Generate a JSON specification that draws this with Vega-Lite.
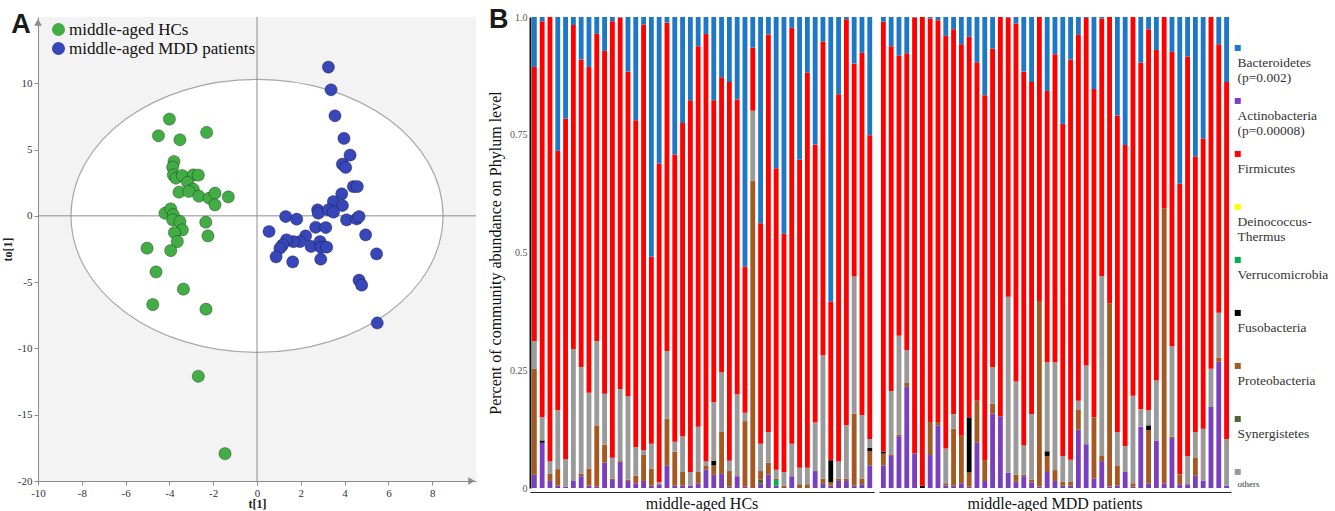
{
  "$schema": "https://vega.github.io/schema/vega-lite/v6.json",
  "padding": {"left": 1, "top": 6, "right": 0, "bottom": 0},
  "background": "white",
  "config": {"view": {"stroke": null}, "font": "Liberation Serif"},
  "datasets": {
    "phyla": [
      {"code": "Act", "phylum": "Actinobacteria", "rank": 1},
      {"code": "Syn", "phylum": "Synergistetes", "rank": 2},
      {"code": "Ver", "phylum": "Verrucomicrobia", "rank": 3},
      {"code": "Pro", "phylum": "Proteobacteria", "rank": 4},
      {"code": "Fus", "phylum": "Fusobacteria", "rank": 5},
      {"code": "Oth", "phylum": "others", "rank": 6},
      {"code": "Dei", "phylum": "Deinococcus-Thermus", "rank": 7},
      {"code": "Fir", "phylum": "Firmicutes", "rank": 8},
      {"code": "Bac", "phylum": "Bacteroidetes", "rank": 9}
    ],
    "scores": [
      {"grp": "middle-aged HCs", "t1": -4.0, "to1": 7.3},
      {"grp": "middle-aged HCs", "t1": -4.5, "to1": 6.04},
      {"grp": "middle-aged HCs", "t1": -3.52, "to1": 5.74},
      {"grp": "middle-aged HCs", "t1": -2.3, "to1": 6.29},
      {"grp": "middle-aged HCs", "t1": -3.79, "to1": 4.1},
      {"grp": "middle-aged HCs", "t1": -3.85, "to1": 3.67},
      {"grp": "middle-aged HCs", "t1": -3.82, "to1": 3.09},
      {"grp": "middle-aged HCs", "t1": -3.7, "to1": 2.84},
      {"grp": "middle-aged HCs", "t1": -3.41, "to1": 3.04},
      {"grp": "middle-aged HCs", "t1": -2.91, "to1": 3.09},
      {"grp": "middle-aged HCs", "t1": -2.68, "to1": 3.07},
      {"grp": "middle-aged HCs", "t1": -3.17, "to1": 2.52},
      {"grp": "middle-aged HCs", "t1": -2.91, "to1": 2.01},
      {"grp": "middle-aged HCs", "t1": -3.56, "to1": 1.79},
      {"grp": "middle-aged HCs", "t1": -3.11, "to1": 1.84},
      {"grp": "middle-aged HCs", "t1": -2.65, "to1": 1.48},
      {"grp": "middle-aged HCs", "t1": -2.18, "to1": 1.33},
      {"grp": "middle-aged HCs", "t1": -1.92, "to1": 1.71},
      {"grp": "middle-aged HCs", "t1": -1.92, "to1": 0.83},
      {"grp": "middle-aged HCs", "t1": -1.31, "to1": 1.43},
      {"grp": "middle-aged HCs", "t1": -4.2, "to1": 0.2},
      {"grp": "middle-aged HCs", "t1": -3.94, "to1": 0.53},
      {"grp": "middle-aged HCs", "t1": -3.82, "to1": 0.08},
      {"grp": "middle-aged HCs", "t1": -3.85, "to1": -0.3},
      {"grp": "middle-aged HCs", "t1": -3.52, "to1": -0.43},
      {"grp": "middle-aged HCs", "t1": -3.41, "to1": -1.06},
      {"grp": "middle-aged HCs", "t1": -3.77, "to1": -1.26},
      {"grp": "middle-aged HCs", "t1": -3.64, "to1": -1.94},
      {"grp": "middle-aged HCs", "t1": -2.34, "to1": -0.48},
      {"grp": "middle-aged HCs", "t1": -2.24, "to1": -1.51},
      {"grp": "middle-aged HCs", "t1": -5.02, "to1": -2.44},
      {"grp": "middle-aged HCs", "t1": -3.94, "to1": -2.62},
      {"grp": "middle-aged HCs", "t1": -4.61, "to1": -4.23},
      {"grp": "middle-aged HCs", "t1": -3.36, "to1": -5.53},
      {"grp": "middle-aged HCs", "t1": -4.76, "to1": -6.69},
      {"grp": "middle-aged HCs", "t1": -2.33, "to1": -7.04},
      {"grp": "middle-aged HCs", "t1": -2.68, "to1": -12.1},
      {"grp": "middle-aged HCs", "t1": -1.46, "to1": -17.94},
      {"grp": "middle-aged MDD patients", "t1": 3.26, "to1": 11.22},
      {"grp": "middle-aged MDD patients", "t1": 3.38, "to1": 9.51},
      {"grp": "middle-aged MDD patients", "t1": 3.56, "to1": 7.55},
      {"grp": "middle-aged MDD patients", "t1": 3.97, "to1": 5.84},
      {"grp": "middle-aged MDD patients", "t1": 4.25, "to1": 4.58},
      {"grp": "middle-aged MDD patients", "t1": 3.9, "to1": 3.9},
      {"grp": "middle-aged MDD patients", "t1": 4.05, "to1": 3.65},
      {"grp": "middle-aged MDD patients", "t1": 4.4, "to1": 2.21},
      {"grp": "middle-aged MDD patients", "t1": 4.58, "to1": 2.21},
      {"grp": "middle-aged MDD patients", "t1": 3.87, "to1": 1.66},
      {"grp": "middle-aged MDD patients", "t1": 3.49, "to1": 1.08},
      {"grp": "middle-aged MDD patients", "t1": 3.9, "to1": 0.78},
      {"grp": "middle-aged MDD patients", "t1": 2.77, "to1": 0.45},
      {"grp": "middle-aged MDD patients", "t1": 2.8, "to1": 0.2},
      {"grp": "middle-aged MDD patients", "t1": 3.26, "to1": 0.45},
      {"grp": "middle-aged MDD patients", "t1": 3.49, "to1": 0.28},
      {"grp": "middle-aged MDD patients", "t1": 4.09, "to1": -0.3},
      {"grp": "middle-aged MDD patients", "t1": 4.55, "to1": -0.23},
      {"grp": "middle-aged MDD patients", "t1": 4.66, "to1": -0.05},
      {"grp": "middle-aged MDD patients", "t1": 4.96, "to1": -1.43},
      {"grp": "middle-aged MDD patients", "t1": 5.46, "to1": -2.87},
      {"grp": "middle-aged MDD patients", "t1": 1.31, "to1": -0.05},
      {"grp": "middle-aged MDD patients", "t1": 1.81, "to1": -0.25},
      {"grp": "middle-aged MDD patients", "t1": 0.55, "to1": -1.18},
      {"grp": "middle-aged MDD patients", "t1": 2.68, "to1": -0.86},
      {"grp": "middle-aged MDD patients", "t1": 3.14, "to1": -0.88},
      {"grp": "middle-aged MDD patients", "t1": 2.22, "to1": -1.51},
      {"grp": "middle-aged MDD patients", "t1": 1.96, "to1": -1.94},
      {"grp": "middle-aged MDD patients", "t1": 1.66, "to1": -1.94},
      {"grp": "middle-aged MDD patients", "t1": 1.35, "to1": -1.81},
      {"grp": "middle-aged MDD patients", "t1": 1.17, "to1": -2.19},
      {"grp": "middle-aged MDD patients", "t1": 1.05, "to1": -2.44},
      {"grp": "middle-aged MDD patients", "t1": 2.47, "to1": -2.31},
      {"grp": "middle-aged MDD patients", "t1": 2.88, "to1": -1.94},
      {"grp": "middle-aged MDD patients", "t1": 2.92, "to1": -2.39},
      {"grp": "middle-aged MDD patients", "t1": 3.18, "to1": -2.36},
      {"grp": "middle-aged MDD patients", "t1": 0.87, "to1": -3.09},
      {"grp": "middle-aged MDD patients", "t1": 1.63, "to1": -3.47},
      {"grp": "middle-aged MDD patients", "t1": 2.91, "to1": -3.27},
      {"grp": "middle-aged MDD patients", "t1": 4.66, "to1": -4.85},
      {"grp": "middle-aged MDD patients", "t1": 4.78, "to1": -5.23},
      {"grp": "middle-aged MDD patients", "t1": 5.49, "to1": -8.08}
    ],
    "abund": [
      {"id": "H01", "grp": "middle-aged HCs", "Act": 0.028, "Pro": 0.225, "Oth": 0.059, "Fir": 0.582, "Bac": 0.106},
      {"id": "H02", "grp": "middle-aged HCs", "Act": 0.096, "Oth": 0.049, "Fus": 0.005, "Fir": 0.841, "Bac": 0.009},
      {"id": "H03", "grp": "middle-aged HCs", "Act": 0.015, "Pro": 0.015, "Oth": 0.027, "Fir": 0.943},
      {"id": "H04", "grp": "middle-aged HCs", "Act": 0.005, "Pro": 0.035, "Oth": 0.125, "Fir": 0.551, "Bac": 0.284},
      {"id": "H05", "grp": "middle-aged HCs", "Act": 0.003, "Oth": 0.058, "Fir": 0.723, "Bac": 0.216},
      {"id": "H06", "grp": "middle-aged HCs", "Act": 0.015, "Oth": 0.28, "Fir": 0.688, "Bac": 0.017},
      {"id": "H07", "grp": "middle-aged HCs", "Act": 0.025, "Pro": 0.005, "Oth": 0.227, "Fir": 0.653, "Bac": 0.09},
      {"id": "H08", "grp": "middle-aged HCs", "Act": 0.005, "Pro": 0.036, "Oth": 0.161, "Fir": 0.692, "Bac": 0.106},
      {"id": "H09", "grp": "middle-aged HCs", "Act": 0.003, "Pro": 0.13, "Oth": 0.179, "Fir": 0.652, "Bac": 0.036},
      {"id": "H10", "grp": "middle-aged HCs", "Act": 0.054, "Pro": 0.038, "Oth": 0.108, "Fir": 0.728, "Bac": 0.072},
      {"id": "H11", "grp": "middle-aged HCs", "Act": 0.017, "Pro": 0.003, "Oth": 0.044, "Fir": 0.927, "Bac": 0.009},
      {"id": "H12", "grp": "middle-aged HCs", "Act": 0.055, "Pro": 0.002, "Oth": 0.153, "Fir": 0.789, "Bac": 0.001},
      {"id": "H13", "grp": "middle-aged HCs", "Act": 0.015, "Pro": 0.003, "Oth": 0.177, "Fir": 0.689, "Bac": 0.116},
      {"id": "H14", "grp": "middle-aged HCs", "Act": 0.01, "Pro": 0.016, "Oth": 0.061, "Fir": 0.694, "Bac": 0.219},
      {"id": "H15", "grp": "middle-aged HCs", "Act": 0.015, "Pro": 0.055, "Oth": 0.01, "Fir": 0.904, "Bac": 0.016},
      {"id": "H16", "grp": "middle-aged HCs", "Act": 0.005, "Pro": 0.036, "Oth": 0.053, "Fir": 0.397, "Bac": 0.509},
      {"id": "H17", "grp": "middle-aged HCs", "Act": 0.008, "Oth": 0.004, "Fir": 0.677, "Bac": 0.311},
      {"id": "H18", "grp": "middle-aged HCs", "Act": 0.048, "Pro": 0.099, "Oth": 0.144, "Fir": 0.697, "Bac": 0.012},
      {"id": "H19", "grp": "middle-aged HCs", "Act": 0.005, "Pro": 0.072, "Oth": 0.021, "Fir": 0.61, "Bac": 0.292},
      {"id": "H20", "grp": "middle-aged HCs", "Act": 0.005, "Pro": 0.029, "Oth": 0.076, "Fir": 0.665, "Bac": 0.225},
      {"id": "H21", "grp": "middle-aged HCs", "Act": 0.005, "Oth": 0.029, "Fir": 0.789, "Bac": 0.177},
      {"id": "H22", "grp": "middle-aged HCs", "Act": 0.01, "Pro": 0.024, "Oth": 0.096, "Fir": 0.808, "Bac": 0.062},
      {"id": "H23", "grp": "middle-aged HCs", "Act": 0.039, "Pro": 0.009, "Oth": 0.009, "Fir": 0.907, "Bac": 0.036},
      {"id": "H24", "grp": "middle-aged HCs", "Act": 0.028, "Pro": 0.02, "Oth": 0.124, "Fus": 0.01, "Fir": 0.641, "Bac": 0.177},
      {"id": "H25", "grp": "middle-aged HCs", "Act": 0.03, "Pro": 0.089, "Oth": 0.126, "Fir": 0.627, "Bac": 0.128},
      {"id": "H26", "grp": "middle-aged HCs", "Act": 0.003, "Pro": 0.033, "Oth": 0.022, "Fir": 0.804, "Bac": 0.138},
      {"id": "H27", "grp": "middle-aged HCs", "Act": 0.025, "Oth": 0.174, "Fir": 0.626, "Bac": 0.175},
      {"id": "H28", "grp": "middle-aged HCs", "Act": 0.003, "Pro": 0.139, "Oth": 0.018, "Fir": 0.31, "Bac": 0.53},
      {"id": "H29", "grp": "middle-aged HCs", "Pro": 0.653, "Oth": 0.148, "Fir": 0.134, "Bac": 0.065},
      {"id": "H30", "grp": "middle-aged HCs", "Act": 0.01, "Syn": 0.008, "Pro": 0.018, "Oth": 0.058, "Fir": 0.468, "Bac": 0.438},
      {"id": "H31", "grp": "middle-aged HCs", "Act": 0.028, "Pro": 0.026, "Oth": 0.065, "Fir": 0.844, "Bac": 0.037},
      {"id": "H32", "grp": "middle-aged HCs", "Act": 0.005, "Ver": 0.012, "Pro": 0.003, "Oth": 0.019, "Fir": 0.64, "Bac": 0.321},
      {"id": "H33", "grp": "middle-aged HCs", "Pro": 0.005, "Oth": 0.029, "Fir": 0.506, "Bac": 0.46},
      {"id": "H34", "grp": "middle-aged HCs", "Act": 0.025, "Oth": 0.069, "Fir": 0.883, "Bac": 0.023},
      {"id": "H35", "grp": "middle-aged HCs", "Pro": 0.008, "Oth": 0.035, "Fir": 0.654, "Bac": 0.303},
      {"id": "H36", "grp": "middle-aged HCs", "Pro": 0.008, "Oth": 0.035, "Fir": 0.839, "Bac": 0.118},
      {"id": "H37", "grp": "middle-aged HCs", "Act": 0.036, "Oth": 0.103, "Fir": 0.59, "Bac": 0.271},
      {"id": "H38", "grp": "middle-aged HCs", "Act": 0.01, "Pro": 0.01, "Oth": 0.262, "Fir": 0.666, "Bac": 0.052},
      {"id": "H39", "grp": "middle-aged HCs", "Act": 0.005, "Pro": 0.007, "Fus": 0.047, "Fir": 0.337, "Bac": 0.604},
      {"id": "H40", "grp": "middle-aged HCs", "Act": 0.015, "Pro": 0.005, "Oth": 0.037, "Fir": 0.779, "Bac": 0.164},
      {"id": "H41", "grp": "middle-aged HCs", "Act": 0.015, "Pro": 0.005, "Oth": 0.113, "Fir": 0.862, "Bac": 0.005},
      {"id": "H42", "grp": "middle-aged HCs", "Act": 0.005, "Pro": 0.153, "Oth": 0.291, "Fir": 0.452, "Bac": 0.099},
      {"id": "H43", "grp": "middle-aged HCs", "Act": 0.008, "Pro": 0.012, "Oth": 0.135, "Fir": 0.769, "Bac": 0.076},
      {"id": "H44", "grp": "middle-aged HCs", "Act": 0.048, "Pro": 0.03, "Fus": 0.007, "Oth": 0.019, "Fir": 0.645, "Bac": 0.251},
      {"id": "M01", "grp": "middle-aged MDD patients", "Act": 0.048, "Pro": 0.025, "Fus": 0.004, "Fir": 0.913, "Bac": 0.01},
      {"id": "M02", "grp": "middle-aged MDD patients", "Act": 0.068, "Pro": 0.002, "Oth": 0.136, "Fir": 0.732, "Bac": 0.062},
      {"id": "M03", "grp": "middle-aged MDD patients", "Act": 0.11, "Pro": 0.003, "Oth": 0.21, "Fir": 0.595, "Bac": 0.082},
      {"id": "M04", "grp": "middle-aged MDD patients", "Act": 0.215, "Pro": 0.008, "Oth": 0.07, "Fir": 0.63, "Bac": 0.077},
      {"id": "M05", "grp": "middle-aged MDD patients", "Act": 0.073, "Fir": 0.926, "Bac": 0.001},
      {"id": "M06", "grp": "middle-aged MDD patients", "Fus": 0.005, "Fir": 0.995},
      {"id": "M07", "grp": "middle-aged MDD patients", "Act": 0.07, "Pro": 0.07, "Fir": 0.857, "Bac": 0.003},
      {"id": "M08", "grp": "middle-aged MDD patients", "Act": 0.133, "Pro": 0.007, "Fir": 0.853, "Bac": 0.007},
      {"id": "M09", "grp": "middle-aged MDD patients", "Act": 0.005, "Pro": 0.005, "Oth": 0.074, "Fir": 0.876, "Bac": 0.04},
      {"id": "M10", "grp": "middle-aged MDD patients", "Act": 0.005, "Pro": 0.121, "Oth": 0.031, "Fir": 0.817, "Bac": 0.026},
      {"id": "M11", "grp": "middle-aged MDD patients", "Act": 0.01, "Pro": 0.101, "Fir": 0.831, "Bac": 0.058},
      {"id": "M12", "grp": "middle-aged MDD patients", "Act": 0.003, "Pro": 0.03, "Fus": 0.117, "Fir": 0.808, "Bac": 0.042},
      {"id": "M13", "grp": "middle-aged MDD patients", "Act": 0.096, "Pro": 0.089, "Fir": 0.719, "Bac": 0.096},
      {"id": "M14", "grp": "middle-aged MDD patients", "Act": 0.015, "Pro": 0.044, "Fir": 0.775, "Bac": 0.166},
      {"id": "M15", "grp": "middle-aged MDD patients", "Act": 0.158, "Pro": 0.021, "Oth": 0.078, "Fir": 0.676, "Bac": 0.067},
      {"id": "M16", "grp": "middle-aged MDD patients", "Act": 0.152, "Fir": 0.848},
      {"id": "M17", "grp": "middle-aged MDD patients", "Act": 0.033, "Oth": 0.373, "Fir": 0.593, "Bac": 0.001},
      {"id": "M18", "grp": "middle-aged MDD patients", "Act": 0.013, "Pro": 0.015, "Oth": 0.198, "Fir": 0.76, "Bac": 0.014},
      {"id": "M19", "grp": "middle-aged MDD patients", "Act": 0.025, "Pro": 0.003, "Oth": 0.063, "Fir": 0.793, "Bac": 0.116},
      {"id": "M20", "grp": "middle-aged MDD patients", "Act": 0.012, "Pro": 0.006, "Oth": 0.139, "Fir": 0.705, "Bac": 0.138},
      {"id": "M21", "grp": "middle-aged MDD patients", "Act": 0.003, "Pro": 0.394, "Fir": 0.603},
      {"id": "M22", "grp": "middle-aged MDD patients", "Act": 0.034, "Pro": 0.034, "Fus": 0.01, "Oth": 0.189, "Fir": 0.576, "Bac": 0.157},
      {"id": "M23", "grp": "middle-aged MDD patients", "Act": 0.015, "Pro": 0.023, "Oth": 0.229, "Fir": 0.654, "Bac": 0.079},
      {"id": "M24", "grp": "middle-aged MDD patients", "Act": 0.005, "Pro": 0.008, "Oth": 0.055, "Fir": 0.705, "Bac": 0.227},
      {"id": "M25", "grp": "middle-aged MDD patients", "Act": 0.005, "Pro": 0.008, "Oth": 0.047, "Fir": 0.85, "Bac": 0.09},
      {"id": "M26", "grp": "middle-aged MDD patients", "Act": 0.124, "Pro": 0.043, "Oth": 0.018, "Fir": 0.777, "Bac": 0.038},
      {"id": "M27", "grp": "middle-aged MDD patients", "Act": 0.093, "Oth": 0.167, "Fir": 0.738, "Bac": 0.002},
      {"id": "M28", "grp": "middle-aged MDD patients", "Act": 0.02, "Pro": 0.13, "Fir": 0.697, "Bac": 0.153},
      {"id": "M29", "grp": "middle-aged MDD patients", "Act": 0.057, "Pro": 0.011, "Oth": 0.382, "Fir": 0.547, "Bac": 0.003},
      {"id": "M30", "grp": "middle-aged MDD patients", "Act": 0.003, "Pro": 0.389, "Fir": 0.608},
      {"id": "M31", "grp": "middle-aged MDD patients", "Act": 0.005, "Pro": 0.043, "Oth": 0.071, "Fir": 0.672, "Bac": 0.209},
      {"id": "M32", "grp": "middle-aged MDD patients", "Act": 0.034, "Oth": 0.055, "Fir": 0.639, "Bac": 0.272},
      {"id": "M33", "grp": "middle-aged MDD patients", "Act": 0.003, "Pro": 0.007, "Oth": 0.186, "Fir": 0.804},
      {"id": "M34", "grp": "middle-aged MDD patients", "Act": 0.13, "Oth": 0.037, "Fir": 0.736, "Bac": 0.097},
      {"id": "M35", "grp": "middle-aged MDD patients", "Act": 0.009, "Pro": 0.114, "Fus": 0.01, "Oth": 0.032, "Fir": 0.809, "Bac": 0.026},
      {"id": "M36", "grp": "middle-aged MDD patients", "Act": 0.1, "Oth": 0.128, "Fir": 0.702, "Bac": 0.07},
      {"id": "M37", "grp": "middle-aged MDD patients", "Act": 0.01, "Pro": 0.584, "Fir": 0.406},
      {"id": "M38", "grp": "middle-aged MDD patients", "Act": 0.106, "Pro": 0.003, "Oth": 0.192, "Fir": 0.625, "Bac": 0.074},
      {"id": "M39", "grp": "middle-aged MDD patients", "Act": 0.008, "Pro": 0.021, "Fir": 0.617, "Bac": 0.354},
      {"id": "M40", "grp": "middle-aged MDD patients", "Act": 0.008, "Oth": 0.06, "Fir": 0.848, "Bac": 0.084},
      {"id": "M41", "grp": "middle-aged MDD patients", "Act": 0.027, "Pro": 0.038, "Oth": 0.054, "Fir": 0.585, "Bac": 0.296},
      {"id": "M42", "grp": "middle-aged MDD patients", "Act": 0.016, "Oth": 0.11, "Fir": 0.616, "Bac": 0.258},
      {"id": "M43", "grp": "middle-aged MDD patients", "Act": 0.172, "Oth": 0.081, "Fir": 0.747},
      {"id": "M44", "grp": "middle-aged MDD patients", "Act": 0.268, "Pro": 0.009, "Oth": 0.095, "Fir": 0.57, "Bac": 0.058},
      {"id": "M45", "grp": "middle-aged MDD patients", "Act": 0.005, "Oth": 0.099, "Fir": 0.758, "Bac": 0.138}
    ]
  },
  "hconcat": [
    {
      "width": 438,
      "height": 464,
      "view": {"fill": "#f3f3f3", "stroke": null},
      "title": {"text": "A", "anchor": "start", "frame": "bounds", "font": "Liberation Sans", "fontSize": 27, "fontWeight": "bold", "color": "#1a1a1a", "offset": -22, "dx": 10},
      "layer": [
        {
          "data": {"values": [{}]},
          "mark": {"type": "point", "shape": "M-1,0C-1,-0.4054,-0.5523,-0.734,0,-0.734C0.5523,-0.734,1,-0.4054,1,0C1,0.4054,0.5523,0.734,0,0.734C-0.5523,0.734,-1,0.4054,-1,0Z", "size": 138384, "filled": true, "fill": "#ffffff", "stroke": "#a8a8a8", "strokeWidth": 1.2, "opacity": 1},
          "encoding": {"x": {"datum": 0, "type": "quantitative"}, "y": {"datum": 0, "type": "quantitative"}}
        },
        {
          "data": {"values": [{}]},
          "mark": {"type": "rule", "color": "#8c8c8c", "strokeWidth": 1},
          "encoding": {"x": {"datum": 0, "type": "quantitative"}}
        },
        {
          "data": {"values": [{}]},
          "mark": {"type": "rule", "color": "#8c8c8c", "strokeWidth": 1},
          "encoding": {"y": {"datum": 0, "type": "quantitative"}}
        },
        {
          "data": {"values": [{}]},
          "mark": {"type": "point", "shape": "triangle-right", "filled": true, "color": "#8c8c8c", "size": 60, "opacity": 1},
          "encoding": {"x": {"datum": 9.8, "type": "quantitative"}, "y": {"datum": -20, "type": "quantitative"}}
        },
        {
          "data": {"values": [{}]},
          "mark": {"type": "point", "shape": "triangle-up", "filled": true, "color": "#8c8c8c", "size": 60, "opacity": 1},
          "encoding": {"x": {"datum": -10, "type": "quantitative"}, "y": {"datum": 14.6, "type": "quantitative"}}
        },
        {
          "data": {"name": "scores"},
          "mark": {"type": "circle", "size": 150, "opacity": 1, "stroke": "#000000", "strokeOpacity": 0.3, "strokeWidth": 1},
          "encoding": {
            "x": {"field": "t1", "type": "quantitative", "scale": {"domain": [-10, 10], "nice": false, "zero": false},
              "axis": {"title": "t[1]", "titleFont": "Liberation Serif", "titleFontWeight": "bold", "titleFontSize": 12, "titleColor": "#222", "titlePadding": 0,
                "values": [-10, -9, -8, -7, -6, -5, -4, -3, -2, -1, 0, 1, 2, 3, 4, 5, 6, 7, 8, 9],
                "labelExpr": "datum.value % 2 === 0 ? toString(datum.value) : ''", "labelOverlap": false, "labelFlush": false,
                "labelFont": "Liberation Serif", "labelFontSize": 11, "labelColor": "#333", "labelPadding": 2,
                "domainColor": "#8c8c8c", "tickColor": "#8c8c8c", "tickSize": 4, "grid": false}},
            "y": {"field": "to1", "type": "quantitative", "scale": {"domain": [-20, 15], "nice": false, "zero": false},
              "axis": {"title": "to[1]", "titleFont": "Liberation Serif", "titleFontWeight": "bold", "titleFontSize": 12, "titleColor": "#222", "titlePadding": 3,
                "values": [-20, -17.5, -15, -12.5, -10, -7.5, -5, -2.5, 0, 2.5, 5, 7.5, 10, 12.5],
                "labelExpr": "datum.value % 5 === 0 ? toString(datum.value) : ''", "labelOverlap": false, "labelFlush": false,
                "labelFont": "Liberation Serif", "labelFontSize": 11, "labelColor": "#333", "labelPadding": 2,
                "domainColor": "#8c8c8c", "tickColor": "#8c8c8c", "tickSize": 4, "grid": false}},
            "color": {"field": "grp", "type": "nominal",
              "scale": {"domain": ["middle-aged HCs", "middle-aged MDD patients"], "range": ["#42ad44", "#3747ba"]},
              "legend": {"title": null, "orient": "top-left", "offset": 4, "padding": 0, "symbolType": "circle", "symbolSize": 170, "symbolStrokeWidth": 0, "symbolOffset": 8, "labelOffset": 2, "labelFont": "Liberation Serif", "labelFontSize": 17, "labelColor": "#111", "rowPadding": 1, "labelLimit": 300}}
          }
        }
      ]
    },
    {
      "data": {"name": "abund"},
      "transform": [
        {"fold": ["Act", "Syn", "Ver", "Pro", "Fus", "Oth", "Dei", "Fir", "Bac"], "as": ["code", "value"]},
        {"filter": "isValid(datum.value) && datum.value > 0"},
        {"lookup": "code", "from": {"data": {"name": "phyla"}, "key": "code", "fields": ["phylum", "rank"]}}
      ],
      "title": {"text": "B", "anchor": "start", "frame": "group", "font": "Liberation Sans", "fontSize": 27, "fontWeight": "bold", "color": "#1a1a1a", "offset": -22, "dx": -41},
      "facet": {
        "column": {"field": "grp", "type": "nominal", "title": null, "sort": ["middle-aged HCs", "middle-aged MDD patients"],
          "header": {"labelOrient": "bottom", "labelFont": "Liberation Serif", "labelFontSize": 16, "labelColor": "#111", "labelPadding": 4}}
      },
      "spacing": 4,
      "resolve": {"scale": {"x": "independent"}},
      "spec": {
        "width": {"step": 7.8},
        "height": 471,
        "mark": {"type": "bar"},
        "encoding": {
          "x": {"field": "id", "type": "nominal", "scale": {"paddingInner": 0.38, "paddingOuter": 0.25},
            "axis": {"title": null, "labels": false, "ticks": false, "domain": true, "domainColor": "#222", "domainWidth": 1.2, "offset": 4}},
          "y": {"field": "value", "type": "quantitative", "stack": "normalize", "scale": {"domain": [0, 1], "nice": false},
            "axis": {"title": "Percent of community abundance on Phylum level", "titleFont": "Liberation Serif", "titleFontSize": 16, "titleFontWeight": "normal", "titleColor": "#111", "titlePadding": 6,
              "values": [0, 0.25, 0.5, 0.75, 1], "labelExpr": "datum.value === 1 ? '1.0' : toString(datum.value)",
              "labelFont": "Liberation Serif", "labelFontSize": 10, "labelColor": "#555", "labelPadding": 3, "labelOverlap": false,
              "ticks": false, "grid": false, "domainColor": "#111", "domainWidth": 2}},
          "color": {"field": "phylum", "type": "nominal",
            "scale": {"domain": ["Bacteroidetes", "Actinobacteria", "Firmicutes", "Deinococcus-Thermus", "Verrucomicrobia", "Fusobacteria", "Proteobacteria", "Synergistetes", "others"],
              "range": ["#1f77c8", "#7a3fbf", "#ff0000", "#ffff00", "#00b050", "#000000", "#a5581f", "#4f6228", "#9a9a9a"]},
            "legend": {"title": " ", "titleFontSize": 12, "titlePadding": 20, "orient": "right", "offset": 1, "padding": 0,
              "symbolType": "M-1,-2.7H0.5V-1.2H-1Z", "symbolSize": 64, "symbolStrokeWidth": 0,
              "labelOffset": -8, "labelBaseline": "top", "labelFont": "Liberation Serif", "labelFontSize": 13.5, "labelColor": "#333", "labelLimit": 200,
              "rowPadding": 12, "gridAlign": "all",
              "labelExpr": "datum.label === 'Bacteroidetes' ? ['Bacteroidetes', '(p=0.002)'] : datum.label === 'Actinobacteria' ? ['Actinobacteria', '(p=0.00008)'] : datum.label === 'Deinococcus-Thermus' ? ['Deinococcus-', 'Thermus'] : datum.label",
              "encode": {"labels": {"update": {"font": {"value": "Liberation Serif"}, "fontSize": {"signal": "datum.label === 'others' ? 9 : 13.5"}, "fill": {"value": "#333333"}}}}}
          },
          "order": {"field": "rank", "type": "quantitative"}
        }
      }
    }
  ],
  "spacing": 10,
  "resolve": {"scale": {"color": "independent"}, "legend": {"color": "independent"}}
}
